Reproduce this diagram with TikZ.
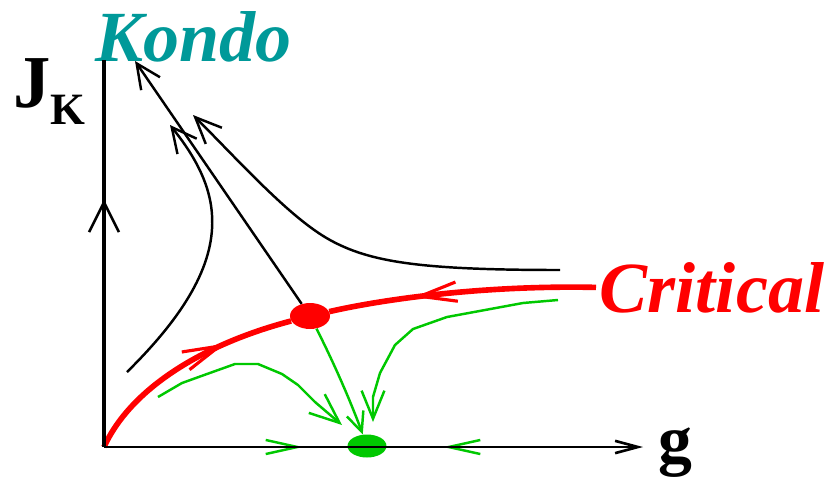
\documentclass[tikz,border=0pt]{standalone}
\usepackage{fontspec}
\setmainfont{Liberation Serif}
\usetikzlibrary{arrows.meta,shapes.geometric,decorations.markings}
\definecolor{kondoteal}{RGB}{0,153,153}
\definecolor{critred}{RGB}{255,0,0}
\definecolor{flowgreen}{RGB}{0,200,0}

\begin{document}
\begin{tikzpicture}[x=0.02cm, y=-0.02cm,
    axisline/.style={line width=#1, black},
    blackflow/.style={line width=1.4pt, black},
    redflow/.style={line width=3.2pt, critred},
    greenflow/.style={line width=1.4pt, flowgreen, line join=round},
    fixpt/.style={ellipse, inner sep=0pt, draw=none},
    labeltext/.style={anchor=base west, inner sep=0pt},
    midtip/.style 2 args={postaction={decorate},
        decoration={markings, mark=at position #1 with {\arrow{#2}}}}]
    % 1. Vùng hiển thị
    \useasboundingbox (0,0) rectangle (825,484);

    % 2. Nhãn
    \node[labeltext, text=kondoteal, font=\fontsize{41}{41}\selectfont\bfseries\itshape] (kondo) at (95,61) {Kondo};
    \node[labeltext, inner sep=2pt, text=critred, font=\fontsize{41}{41}\selectfont\bfseries\itshape] (crit) at (596,312) {Critical};
    \node[labeltext, font=\fontsize{42.5}{42.5}\selectfont\bfseries] (jk) at (13,107) {J\raisebox{-10pt}{\fontsize{25.5}{25.5}\selectfont K}};
    \node[labeltext, font=\fontsize{38.5}{38.5}\selectfont\bfseries] (g) at (658,462) {g};

    % 3. Điểm bất động
    \node[fixpt, fill=critred, minimum width=0.8cm, minimum height=0.52cm] (rd) at (310,316) {};
    \node[fixpt, fill=flowgreen, minimum width=0.78cm, minimum height=0.46cm] (gd) at (367,446) {};
    \coordinate (O) at (104,447);
    \coordinate (ytop) at (104,60);
    \coordinate (xend) at (643,447);
    \coordinate (kt) at (135,61);

    % 4. Đường tới hạn (đỏ)
    \draw[redflow, midtip={0.70}{Straight Barb[length=21pt,width=11pt,line width=1.8pt]}]
        (O) .. controls (130,390) and (200,345) .. (rd);
    \draw[redflow, midtip={0.68}{Straight Barb[length=21pt,width=11pt,line width=1.8pt]}]
        (crit.west) .. controls (480,285) and (380,300) .. (rd);

    % 5. Các dòng chảy về Kondo (đen)
    \draw[blackflow, -{Straight Barb[length=14pt,width=13pt]}] (rd) -- (kt);
    \draw[blackflow, -{Straight Barb[length=14pt,width=14pt]}]
        (127,372) .. controls (190,310) and (215,260) .. (212,215)
        .. controls (210,180) and (190,150) .. (170,125);
    \draw[blackflow, -{Straight Barb[length=15pt,width=13pt]}]
        (560,270) .. controls (420,270) and (370,262) .. (330,240)
        .. controls (290,218) and (240,162) .. (193,115);

    % 6. Các dòng chảy về điểm xanh
    \draw[greenflow, -{Straight Barb[length=11pt,width=10pt]}]
        (rd) .. controls (335,365) and (352,405) .. (gd);
    \draw[greenflow, -{Straight Barb[length=17pt,width=14pt]}]
        (158,397) -- (182,383) -- (207,374) -- (235,364) -- (258,364)
        -- (282,374) -- (298,385) -- (315,402) -- (342,425);
    \draw[greenflow, -{Straight Barb[length=16pt,width=13pt]}]
        (558,300) -- (523,303) -- (447,317) -- (413,329) -- (395,345)
        -- (380,373) -- (373,397) -- (373,422);
    \draw[greenflow, -{Straight Barb[length=18pt,width=8pt]}] (285,447) -- (303,447);
    \draw[greenflow, -{Straight Barb[length=18pt,width=8pt]}] (462,447) -- (443,447);

    % 7. Trục J_K và g
    \draw[axisline=2.6pt, midtip={0.64}{Straight Barb[length=17pt,width=17pt,line width=1.5pt]}]
        (O) -- (ytop);
    \draw[axisline=1.5pt, -{Straight Barb[length=13pt,width=7pt]}] (O) -- (xend);
\end{tikzpicture}
\end{document}
